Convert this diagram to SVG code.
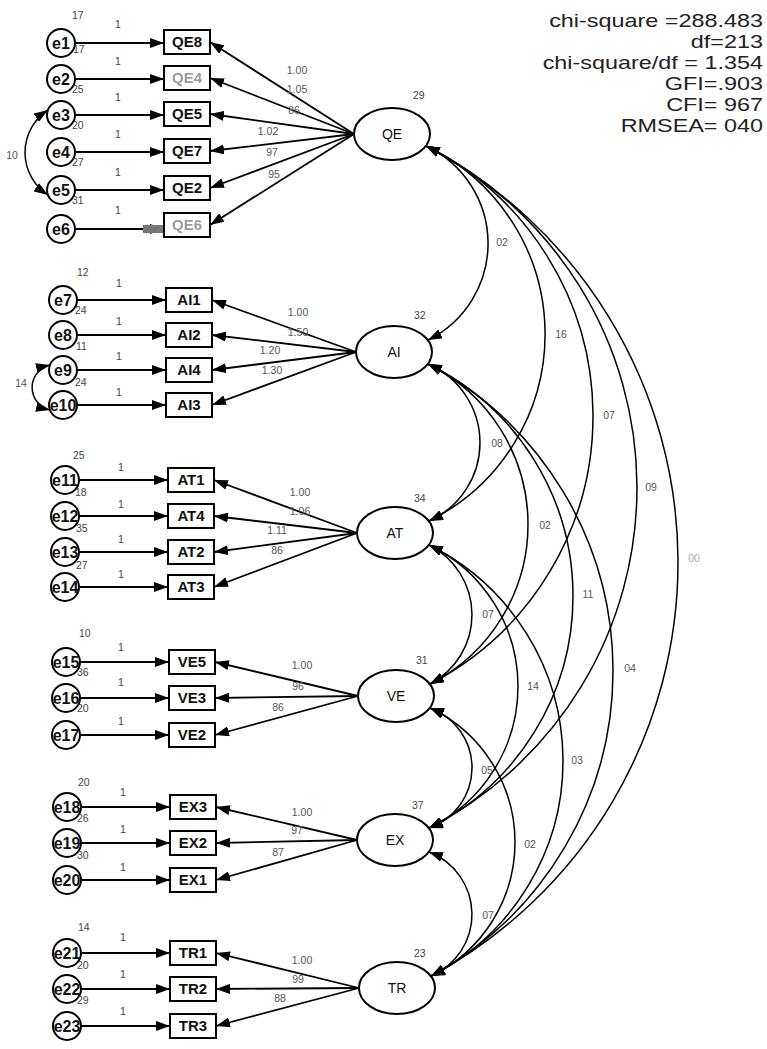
<svg xmlns="http://www.w3.org/2000/svg" width="767" height="1049" viewBox="0 0 767 1049">
<style>
  text { font-family: "Liberation Sans", Arial, sans-serif; }
  .box { fill: #fff; stroke: #000; stroke-width: 2; }
  .lat { fill: #fff; stroke: #000; stroke-width: 2; }
  .err { fill: #fff; stroke: #000; stroke-width: 2; }
  .bt { font-size: 15px; font-weight: bold; text-anchor: middle; fill: #111; }
  .lt { font-size: 14px; text-anchor: middle; fill: #111; }
  .et { font-size: 16px; font-weight: bold; text-anchor: middle; fill: #111; }
  .n { font-size: 10.5px; fill: #444; }
  .nc { font-size: 10.5px; fill: #555; text-anchor: middle; }
  .fit { font-size: 18px; fill: #222; text-anchor: end; }
  .path { fill: none; stroke: #000; stroke-width: 1.8; }
  .cov { fill: none; stroke: #000; stroke-width: 1.5; }
</style>
<defs>
  <marker id="ah" viewBox="0 0 14 10" refX="14" refY="5" markerWidth="14" markerHeight="10" markerUnits="userSpaceOnUse" orient="auto-start-reverse">
    <path d="M0,0 L14,5 L0,10 z" fill="#000"/>
  </marker>
  <filter id="smear" x="-20%" y="-40%" width="140%" height="180%">
    <feGaussianBlur stdDeviation="0.7"/>
  </filter>
</defs>
<rect width="767" height="1049" fill="#fff"/>

<!-- fit statistics (widened face) -->
<g id="fit" transform="translate(763,0) scale(1.3,1)">
  <text class="fit" x="0" y="27">chi-square =288.483</text>
  <text class="fit" x="0" y="48">df=213</text>
  <text class="fit" x="0" y="69">chi-square/df = 1.354</text>
  <text class="fit" x="0" y="90">GFI=.903</text>
  <text class="fit" x="0" y="111">CFI= 967</text>
  <text class="fit" x="0" y="132">RMSEA=  040</text>
</g>

<!-- connectors -->
<g id="connectors">
  <!-- error -> indicator paths -->
  <g class="path" marker-end="url(#ah)">
    <line x1="75" y1="43" x2="164" y2="43"/>
    <line x1="75" y1="79" x2="164" y2="79"/>
    <line x1="75" y1="115" x2="164" y2="115"/>
    <line x1="75" y1="152" x2="164" y2="152"/>
    <line x1="75" y1="190" x2="164" y2="190"/>
    <line x1="75" y1="229" x2="164" y2="229"/>
    <line x1="77" y1="300" x2="166" y2="300"/>
    <line x1="77" y1="335" x2="166" y2="335"/>
    <line x1="77" y1="370" x2="166" y2="370"/>
    <line x1="77" y1="405" x2="166" y2="405"/>
    <line x1="79" y1="480" x2="168" y2="480"/>
    <line x1="79" y1="516" x2="168" y2="516"/>
    <line x1="79" y1="552" x2="168" y2="552"/>
    <line x1="79" y1="587" x2="168" y2="587"/>
    <line x1="80" y1="662" x2="169" y2="662"/>
    <line x1="80" y1="698" x2="169" y2="698"/>
    <line x1="80" y1="735" x2="169" y2="735"/>
    <line x1="81" y1="807" x2="170" y2="807"/>
    <line x1="81" y1="843" x2="170" y2="843"/>
    <line x1="81" y1="880" x2="170" y2="880"/>
    <line x1="81" y1="953" x2="170" y2="953"/>
    <line x1="81" y1="989" x2="170" y2="989"/>
    <line x1="81" y1="1026" x2="170" y2="1026"/>
  </g>
  <rect x="143" y="225" width="23" height="8" fill="#777" filter="url(#smear)"/>

  <!-- factor loadings -->
  <g class="path" marker-end="url(#ah)">
    <line x1="354" y1="134" x2="210" y2="42"/>
    <line x1="354" y1="134" x2="210" y2="78"/>
    <line x1="354" y1="134" x2="210" y2="114"/>
    <line x1="354" y1="134" x2="210" y2="151"/>
    <line x1="354" y1="134" x2="210" y2="188"/>
    <line x1="354" y1="134" x2="210" y2="225"/>
    <line x1="356" y1="352" x2="212" y2="300"/>
    <line x1="356" y1="352" x2="212" y2="335"/>
    <line x1="356" y1="352" x2="212" y2="370"/>
    <line x1="356" y1="352" x2="212" y2="405"/>
    <line x1="357" y1="533" x2="214" y2="480"/>
    <line x1="357" y1="533" x2="214" y2="516"/>
    <line x1="357" y1="533" x2="214" y2="552"/>
    <line x1="357" y1="533" x2="214" y2="587"/>
    <line x1="358" y1="696" x2="215" y2="662"/>
    <line x1="358" y1="696" x2="215" y2="698"/>
    <line x1="358" y1="696" x2="215" y2="735"/>
    <line x1="357" y1="840" x2="216" y2="807"/>
    <line x1="357" y1="840" x2="216" y2="843"/>
    <line x1="357" y1="840" x2="216" y2="880"/>
    <line x1="359" y1="988" x2="216" y2="953"/>
    <line x1="359" y1="988" x2="216" y2="989"/>
    <line x1="359" y1="988" x2="216" y2="1026"/>
  </g>

  <!-- covariances between latent factors -->
  <g class="cov" marker-start="url(#ah)" marker-end="url(#ah)">
    <path d="M426,146 A107.6,107.6 0 0 1 428,340"/>
    <path d="M426,146 A208.3,208.3 0 0 1 429,521"/>
    <path d="M426,146 A301.8,301.8 0 0 1 430,684"/>
    <path d="M426,146 A382.3,382.3 0 0 1 429,828"/>
    <path d="M426,146 A469.9,469.9 0 0 1 431,976"/>
    <path d="M428,364 A85.6,85.6 0 0 1 429,521"/>
    <path d="M428,364 A178.8,178.8 0 0 1 430,684"/>
    <path d="M428,364 A258.5,258.5 0 0 1 429,828"/>
    <path d="M428,364 A346.9,346.9 0 0 1 431,976"/>
    <path d="M429,545 A78.1,78.1 0 0 1 430,684"/>
    <path d="M429,545 A157,157 0 0 1 429,828"/>
    <path d="M429,545 A241.1,241.1 0 0 1 431,976"/>
    <path d="M430,708 A63.6,63.6 0 0 1 429,828"/>
    <path d="M430,708 A148.5,148.5 0 0 1 431,976"/>
    <path d="M429,852 A66.8,66.8 0 0 1 431,976"/>
    <!-- error covariances -->
    <path d="M48,110 A50.8,50.8 0 0 0 48,195"/>
    <path d="M50,365 A23.1,23.1 0 0 0 50,410"/>
  </g>

  <!-- path labels -->
  <g class="n">
    <text x="115" y="28">1</text>
    <text x="115" y="65">1</text>
    <text x="115" y="101">1</text>
    <text x="115" y="138">1</text>
    <text x="115" y="176">1</text>
    <text x="115" y="214">1</text>
    <text x="116" y="287">1</text>
    <text x="116" y="325">1</text>
    <text x="116" y="360">1</text>
    <text x="116" y="396">1</text>
    <text x="118" y="471">1</text>
    <text x="118" y="508">1</text>
    <text x="118" y="543">1</text>
    <text x="118" y="578">1</text>
    <text x="118" y="651">1</text>
    <text x="118" y="686">1</text>
    <text x="118" y="725">1</text>
    <text x="120" y="796">1</text>
    <text x="120" y="833">1</text>
    <text x="120" y="871">1</text>
    <text x="120" y="941">1</text>
    <text x="120" y="978">1</text>
    <text x="120" y="1015">1</text>
  </g>
  <g class="nc">
    <text x="297" y="74">1.00</text>
    <text x="297" y="93">1.05</text>
    <text x="294" y="114">86</text>
    <text x="268" y="135">1.02</text>
    <text x="272" y="156">97</text>
    <text x="274" y="178">95</text>
    <text x="298" y="316">1.00</text>
    <text x="298" y="336">1.50</text>
    <text x="270" y="354">1.20</text>
    <text x="272" y="374">1.30</text>
    <text x="300" y="496">1.00</text>
    <text x="300" y="515">1.06</text>
    <text x="277" y="534">1.11</text>
    <text x="277" y="554">86</text>
    <text x="302" y="669">1.00</text>
    <text x="298" y="690">96</text>
    <text x="278" y="711">86</text>
    <text x="302" y="816">1.00</text>
    <text x="297" y="834">97</text>
    <text x="278" y="856">87</text>
    <text x="302" y="964">1.00</text>
    <text x="298" y="983">99</text>
    <text x="280" y="1002">88</text>
    <!-- covariance estimates -->
    <text x="502" y="246">02</text>
    <text x="561" y="338">16</text>
    <text x="609" y="419">07</text>
    <text x="651" y="491">09</text>
    <text x="694" y="562" fill="#aaa">00</text>
    <text x="497" y="447">08</text>
    <text x="545" y="529">02</text>
    <text x="588" y="598">11</text>
    <text x="630" y="672">04</text>
    <text x="488" y="618">07</text>
    <text x="533" y="690">14</text>
    <text x="577" y="764">03</text>
    <text x="487" y="774">05</text>
    <text x="530" y="848">02</text>
    <text x="488" y="919">07</text>
    <text x="12" y="159">10</text>
    <text x="21" y="387">14</text>
  </g>
</g>

<!-- error terms -->
<g id="e1"><circle class="err" cx="61" cy="43" r="14"/><text class="et" x="61" y="49">e1</text><text class="n" x="72" y="19">17</text></g>
<g id="e2"><circle class="err" cx="61" cy="79" r="14"/><text class="et" x="61" y="85">e2</text><text class="n" x="73" y="53">17</text></g>
<g id="e3"><circle class="err" cx="61" cy="115" r="14"/><text class="et" x="61" y="121">e3</text><text class="n" x="72" y="93">25</text></g>
<g id="e4"><circle class="err" cx="61" cy="152" r="14"/><text class="et" x="61" y="158">e4</text><text class="n" x="72" y="129">20</text></g>
<g id="e5"><circle class="err" cx="61" cy="190" r="14"/><text class="et" x="61" y="196">e5</text><text class="n" x="72" y="166">27</text></g>
<g id="e6"><circle class="err" cx="61" cy="229" r="14"/><text class="et" x="61" y="235">e6</text><text class="n" x="72" y="204">31</text></g>

<g id="e7"><circle class="err" cx="63" cy="300" r="14"/><text class="et" x="63" y="306">e7</text><text class="n" x="77" y="276">12</text></g>
<g id="e8"><circle class="err" cx="63" cy="335" r="14"/><text class="et" x="63" y="341">e8</text><text class="n" x="75" y="314">24</text></g>
<g id="e9"><circle class="err" cx="63" cy="370" r="14"/><text class="et" x="63" y="376">e9</text><text class="n" x="76" y="350">11</text></g>
<g id="e10"><circle class="err" cx="63" cy="405" r="14"/><text class="et" x="63" y="411">e10</text><text class="n" x="75" y="386">24</text></g>

<g id="e11"><circle class="err" cx="65" cy="480" r="14"/><text class="et" x="65" y="486">e11</text><text class="n" x="73" y="459">25</text></g>
<g id="e12"><circle class="err" cx="65" cy="516" r="14"/><text class="et" x="65" y="522">e12</text><text class="n" x="75" y="496">18</text></g>
<g id="e13"><circle class="err" cx="65" cy="552" r="14"/><text class="et" x="65" y="558">e13</text><text class="n" x="76" y="532">35</text></g>
<g id="e14"><circle class="err" cx="65" cy="587" r="14"/><text class="et" x="65" y="593">e14</text><text class="n" x="76" y="569">27</text></g>

<g id="e15"><circle class="err" cx="66" cy="662" r="14"/><text class="et" x="66" y="668">e15</text><text class="n" x="79" y="637">10</text></g>
<g id="e16"><circle class="err" cx="66" cy="698" r="14"/><text class="et" x="66" y="704">e16</text><text class="n" x="77" y="676">36</text></g>
<g id="e17"><circle class="err" cx="66" cy="735" r="14"/><text class="et" x="66" y="741">e17</text><text class="n" x="77" y="712">20</text></g>

<g id="e18"><circle class="err" cx="67" cy="807" r="14"/><text class="et" x="67" y="813">e18</text><text class="n" x="78" y="786">20</text></g>
<g id="e19"><circle class="err" cx="67" cy="843" r="14"/><text class="et" x="67" y="849">e19</text><text class="n" x="77" y="822">26</text></g>
<g id="e20"><circle class="err" cx="67" cy="880" r="14"/><text class="et" x="67" y="886">e20</text><text class="n" x="77" y="859">30</text></g>

<g id="e21"><circle class="err" cx="67" cy="953" r="14"/><text class="et" x="67" y="959">e21</text><text class="n" x="78" y="931">14</text></g>
<g id="e22"><circle class="err" cx="67" cy="989" r="14"/><text class="et" x="67" y="995">e22</text><text class="n" x="77" y="969">20</text></g>
<g id="e23"><circle class="err" cx="67" cy="1026" r="14"/><text class="et" x="67" y="1032">e23</text><text class="n" x="77" y="1004">29</text></g>

<!-- observed indicators -->
<g id="QE8"><rect class="box" x="164" y="30" width="46" height="24"/><text class="bt" x="187" y="47">QE8</text></g>
<g id="QE4"><rect class="box" x="164" y="66" width="46" height="24"/><text class="bt" x="187" y="83" style="fill:#9a9a9a" filter="url(#smear)">QE4</text></g>
<g id="QE5"><rect class="box" x="164" y="102" width="46" height="24"/><text class="bt" x="187" y="119">QE5</text></g>
<g id="QE7"><rect class="box" x="164" y="139" width="46" height="24"/><text class="bt" x="187" y="156">QE7</text></g>
<g id="QE2"><rect class="box" x="164" y="176" width="46" height="24"/><text class="bt" x="187" y="193">QE2</text></g>
<g id="QE6"><rect class="box" x="164" y="213" width="46" height="24"/><text class="bt" x="187" y="230" style="fill:#9a9a9a" filter="url(#smear)">QE6</text></g>

<g id="AI1"><rect class="box" x="166" y="288" width="46" height="24"/><text class="bt" x="189" y="305">AI1</text></g>
<g id="AI2"><rect class="box" x="166" y="323" width="46" height="24"/><text class="bt" x="189" y="340">AI2</text></g>
<g id="AI4"><rect class="box" x="166" y="358" width="46" height="24"/><text class="bt" x="189" y="375">AI4</text></g>
<g id="AI3"><rect class="box" x="166" y="393" width="46" height="24"/><text class="bt" x="189" y="410">AI3</text></g>

<g id="AT1"><rect class="box" x="168" y="468" width="46" height="24"/><text class="bt" x="191" y="485">AT1</text></g>
<g id="AT4"><rect class="box" x="168" y="504" width="46" height="24"/><text class="bt" x="191" y="521">AT4</text></g>
<g id="AT2"><rect class="box" x="168" y="540" width="46" height="24"/><text class="bt" x="191" y="557">AT2</text></g>
<g id="AT3"><rect class="box" x="168" y="575" width="46" height="24"/><text class="bt" x="191" y="592">AT3</text></g>

<g id="VE5"><rect class="box" x="169" y="650" width="46" height="24"/><text class="bt" x="192" y="667">VE5</text></g>
<g id="VE3"><rect class="box" x="169" y="686" width="46" height="24"/><text class="bt" x="192" y="703">VE3</text></g>
<g id="VE2"><rect class="box" x="169" y="723" width="46" height="24"/><text class="bt" x="192" y="740">VE2</text></g>

<g id="EX3"><rect class="box" x="170" y="795" width="46" height="24"/><text class="bt" x="193" y="812">EX3</text></g>
<g id="EX2"><rect class="box" x="170" y="831" width="46" height="24"/><text class="bt" x="193" y="848">EX2</text></g>
<g id="EX1"><rect class="box" x="170" y="868" width="46" height="24"/><text class="bt" x="193" y="885">EX1</text></g>

<g id="TR1"><rect class="box" x="170" y="941" width="46" height="24"/><text class="bt" x="193" y="958">TR1</text></g>
<g id="TR2"><rect class="box" x="170" y="977" width="46" height="24"/><text class="bt" x="193" y="994">TR2</text></g>
<g id="TR3"><rect class="box" x="170" y="1014" width="46" height="24"/><text class="bt" x="193" y="1031">TR3</text></g>

<!-- latent factors -->
<g id="QE"><ellipse class="lat" cx="392" cy="134" rx="38" ry="26"/><text class="lt" x="392" y="139">QE</text><text class="n" x="413" y="99">29</text></g>
<g id="AI"><ellipse class="lat" cx="394" cy="352" rx="38" ry="26"/><text class="lt" x="394" y="357">AI</text><text class="n" x="414" y="319">32</text></g>
<g id="AT"><ellipse class="lat" cx="395" cy="533" rx="38" ry="26"/><text class="lt" x="395" y="538">AT</text><text class="n" x="414" y="502">34</text></g>
<g id="VE"><ellipse class="lat" cx="396" cy="696" rx="38" ry="26"/><text class="lt" x="396" y="701">VE</text><text class="n" x="416" y="664">31</text></g>
<g id="EX"><ellipse class="lat" cx="395" cy="840" rx="38" ry="26"/><text class="lt" x="395" y="845">EX</text><text class="n" x="412" y="809">37</text></g>
<g id="TR"><ellipse class="lat" cx="397" cy="988" rx="38" ry="26"/><text class="lt" x="397" y="993">TR</text><text class="n" x="414" y="957">23</text></g>
</svg>
